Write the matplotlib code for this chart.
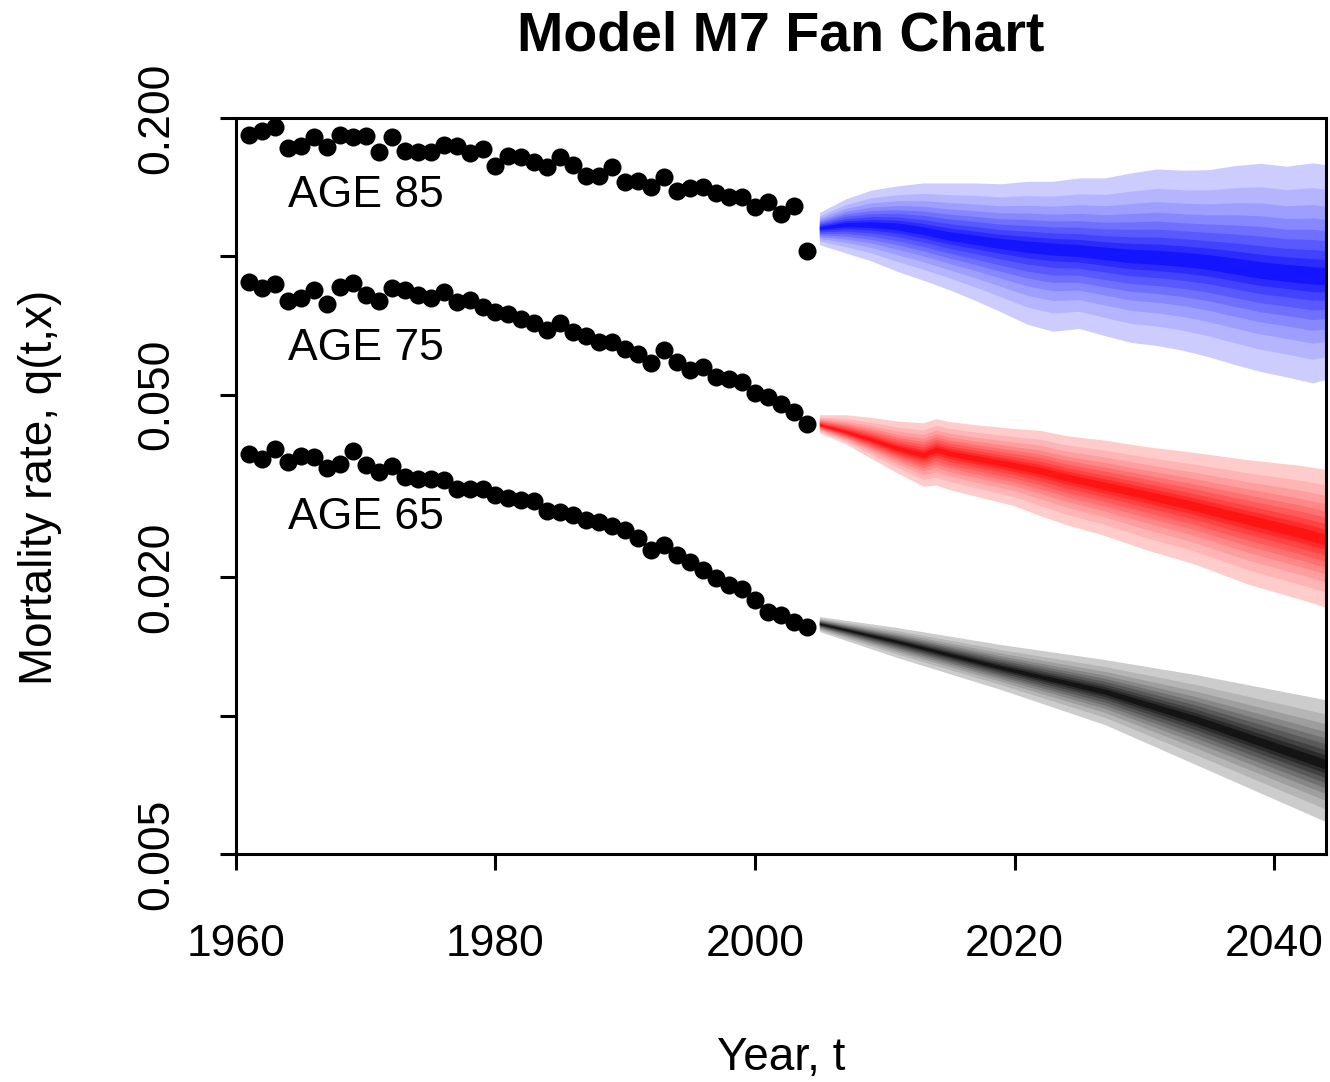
import matplotlib
matplotlib.use("Agg")
import matplotlib.pyplot as plt
import numpy as np

plt.rcParams['font.family'] = ['Liberation Sans', 'DejaVu Sans']

# observed mortality rates, 1961-2004
years_obs = np.arange(1961, 2005)
q85 = [0.1836, 0.1873, 0.1915, 0.1718, 0.1739, 0.1821, 0.1726, 0.1836, 0.1821, 0.1828,
       0.1684, 0.1821, 0.1697, 0.1684, 0.1690, 0.1748, 0.1739, 0.1681, 0.1709, 0.1572,
       0.1653, 0.1645, 0.1602, 0.1562, 0.1648, 0.1580, 0.1495, 0.1495, 0.1566, 0.1453,
       0.1460, 0.1417, 0.1490, 0.1389, 0.1406, 0.1413, 0.1375, 0.1348, 0.1344, 0.1281,
       0.1313, 0.1236, 0.1286, 0.1028]
q75 = [0.0880, 0.0854, 0.0869, 0.0799, 0.0810, 0.0844, 0.0786, 0.0859, 0.0873, 0.0824,
       0.0799, 0.0852, 0.0844, 0.0824, 0.0813, 0.0837, 0.0794, 0.0803, 0.0777, 0.0758,
       0.0748, 0.0730, 0.0717, 0.0691, 0.0715, 0.0685, 0.0671, 0.0652, 0.0652, 0.0627,
       0.0613, 0.0585, 0.0625, 0.0590, 0.0566, 0.0575, 0.0547, 0.0540, 0.0533, 0.0505,
       0.0493, 0.0477, 0.0459, 0.0431]
q65 = [0.0371, 0.0362, 0.0381, 0.0356, 0.0368, 0.0366, 0.0347, 0.0353, 0.0377, 0.0351,
       0.0340, 0.0350, 0.0331, 0.0327, 0.0327, 0.0326, 0.0311, 0.0311, 0.0311, 0.0302,
       0.0298, 0.0295, 0.0294, 0.0279, 0.0278, 0.0273, 0.0267, 0.0264, 0.0259, 0.0254,
       0.0244, 0.0230, 0.0235, 0.0224, 0.0216, 0.0208, 0.0199, 0.0193, 0.0189, 0.0179,
       0.0168, 0.0166, 0.0160, 0.0156]

# forecast fans: median and outer (5% / 95%) quantiles
yrs85 = [2005, 2007, 2009, 2011, 2013, 2015, 2017, 2019, 2021, 2023, 2025,
         2027, 2029, 2031, 2033, 2035, 2037, 2039, 2041, 2043, 2044]
hi85 = [0.1242, 0.1330, 0.1390, 0.1420, 0.1441, 0.1441, 0.1441, 0.1435, 0.1453, 0.1453, 0.1478,
        0.1478, 0.1515, 0.1546, 0.1536, 0.1540, 0.1572, 0.1590, 0.1567, 0.1594, 0.1580]
med85 = [0.1150, 0.1170, 0.1170, 0.1160, 0.1135, 0.1105, 0.1085, 0.1065, 0.1050, 0.1038, 0.1028,
         0.1014, 0.1000, 0.0993, 0.0983, 0.0970, 0.0950, 0.0930, 0.0918, 0.0906, 0.0902]
lo85 = [0.1058, 0.1015, 0.0975, 0.0925, 0.0885, 0.0844, 0.0800, 0.0755, 0.0710, 0.0685, 0.0695,
        0.0670, 0.0648, 0.0638, 0.0623, 0.0603, 0.0580, 0.0560, 0.0545, 0.0529, 0.0538]

yrs75 = [2005, 2007, 2009, 2011, 2013, 2014, 2015, 2017, 2020, 2022, 2024,
         2027, 2030, 2034, 2038, 2042, 2044]
hi75 = [0.0451, 0.0451, 0.0445, 0.0437, 0.0433, 0.0442, 0.0436, 0.0429, 0.0421, 0.0417, 0.0406,
        0.0397, 0.0385, 0.0373, 0.0360, 0.0350, 0.0343]
med75 = [0.0429, 0.0414, 0.0398, 0.0381, 0.0369, 0.0379, 0.0372, 0.0363, 0.0350, 0.0341, 0.0330,
         0.0316, 0.0303, 0.0285, 0.0267, 0.0250, 0.0241]
lo75 = [0.0412, 0.0390, 0.0362, 0.0337, 0.0315, 0.0317, 0.0310, 0.0300, 0.0286, 0.0272, 0.0260,
        0.0246, 0.0230, 0.0213, 0.0193, 0.0179, 0.0172]

yrs65 = [2005, 2011, 2019, 2027, 2034, 2044]
hi65 = [0.01640, 0.01552, 0.01425, 0.01322, 0.01226, 0.01081]
med65 = [0.01583, 0.01447, 0.01270, 0.01126, 0.00979, 0.00781]
lo65 = [0.01521, 0.01335, 0.01137, 0.00954, 0.00781, 0.00587]

# relative position of each band edge between median and outer quantile
band_frac = [1.0, 0.78, 0.63, 0.51, 0.41, 0.32, 0.23, 0.15, 0.08]

yticks = [0.005, 0.01, 0.02, 0.05, 0.1, 0.2]
ytick_labels = ["0.005", "", "0.020", "0.050", "", "0.200"]
xticks = [1960, 1980, 2000, 2020, 2040]

fig = plt.figure(figsize=(13.3, 10.82), dpi=100)
ax = fig.add_axes([0.1774, 0.2107, 0.8196, 0.6802])


def draw_fan(years, med, lo, hi, base):
    lm, ll, lh = np.log(med), np.log(lo), np.log(hi)
    whites = np.linspace(0.80, 0.08, len(band_frac))
    for f, w in zip(band_frac, whites):
        col = tuple(c + (1 - c) * w for c in base)
        ax.fill_between(years, np.exp(lm + f * (ll - lm)), np.exp(lm + f * (lh - lm)),
                        color=col, edgecolor="none", lw=0)


draw_fan(yrs85, med85, lo85, hi85, (0.0, 0.0, 1.0))
draw_fan(yrs75, med75, lo75, hi75, (1.0, 0.0, 0.0))
draw_fan(yrs65, med65, lo65, hi65, (0.0, 0.0, 0.0))

for q in (q85, q75, q65):
    ax.plot(years_obs, q, "o", color="black", markersize=13, markeredgewidth=0)

ax.text(1970, 0.1280, "AGE 85", ha="center", va="baseline", fontsize=32)
ax.text(1970, 0.0595, "AGE 75", ha="center", va="baseline", fontsize=32)
ax.text(1970, 0.0255, "AGE 65", ha="center", va="baseline", fontsize=32)

ax.set_yscale("log")
ax.set_xlim(1960, 2044)
ax.set_ylim(0.005, 0.2)
ax.set_yticks(yticks)
ax.set_yticklabels(ytick_labels, rotation=90, va="center")
ax.minorticks_off()
ax.set_xticks(xticks)
ax.tick_params(axis="both", length=11.5, width=2.2, labelsize=32)
ax.tick_params(axis="x", pad=39)
ax.tick_params(axis="y", pad=31)
for s in ax.spines.values():
    s.set_linewidth(2.2)

fig.text(0.587, 0.966, "Model M7 Fan Chart", ha="center", va="center",
         fontsize=40, fontweight="bold")
fig.text(0.587, 0.022, "Year, t", ha="center", va="center", fontsize=33)
fig.text(0.030, 0.55, "Mortality rate, q(t,x)", ha="center", va="center",
         rotation=90, fontsize=33)

fig.savefig("out.png", dpi=100)
